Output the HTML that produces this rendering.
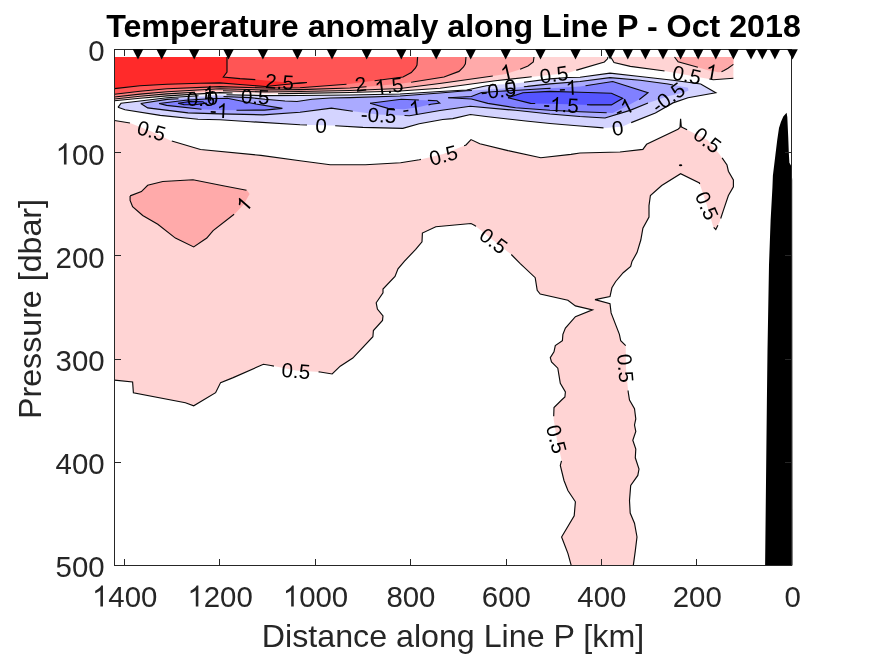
<!DOCTYPE html>
<html><head><meta charset="utf-8"><title>Temperature anomaly along Line P</title>
<style>html,body{margin:0;padding:0;background:#fff;}body{width:875px;height:656px;overflow:hidden;position:relative;font-family:"Liberation Sans",sans-serif;}</style>
</head><body>
<svg width="875" height="656" viewBox="0 0 875 656" style="position:absolute;left:0;top:0;will-change:transform">
<rect width="875" height="656" fill="#fff"/>
<polygon points="114.5,57.1 608.0,57.1 608.0,57.0 607.5,58.8 604.4,62.0 576.7,70.1 568.0,73.0 540.0,76.0 529.6,77.0 495.3,80.8 440.0,88.3 400.0,91.0 350.0,92.5 300.0,93.4 265.0,93.8 220.0,92.7 167.0,95.9 140.0,98.3 114.5,100.8" fill="rgb(255,212,212)"/>
<polygon points="612.7,57.1 733.4,57.1 733.4,78.2 713.3,79.7 700.7,77.5 673.0,72.5 663.0,70.7 630.3,66.4 614.0,62.6 611.0,57.5" fill="rgb(255,212,212)"/>
<polygon points="114.5,120.5 130.0,123.0 151.5,131.5 170.3,140.6 200.5,149.5 260.9,155.4 300.0,160.7 330.2,164.7 365.4,164.7 400.6,162.7 419.4,159.7 443.3,154.0 466.0,145.0 471.0,139.6 479.8,143.8 508.0,150.6 540.8,157.7 571.0,154.4 580.0,153.0 620.0,152.0 642.9,149.4 646.6,144.3 678.0,129.3 680.0,127.5 680.6,118.7 681.3,126.8 683.0,127.7 707.5,140.0 719.5,154.2 727.0,165.0 728.4,171.2 733.4,180.0 733.4,186.8 728.4,195.5 723.3,210.6 719.6,222.0 715.8,229.5 713.3,227.0 707.0,205.6 699.4,183.0 680.6,173.7 661.7,185.5 650.4,195.5 649.0,205.6 649.0,217.0 642.9,228.2 640.8,240.0 637.0,252.6 632.0,261.4 630.7,266.4 623.2,272.7 615.7,281.5 611.9,287.8 610.0,296.6 595.0,299.6 610.0,303.6 611.1,312.9 619.4,334.3 620.7,340.6 625.7,345.6 626.0,368.0 628.2,392.0 629.5,400.0 634.5,408.8 635.8,418.9 634.5,425.0 635.8,431.4 632.8,440.2 635.8,449.0 635.3,457.8 639.0,469.0 637.8,475.4 630.7,485.5 629.5,500.6 630.2,513.0 634.5,523.2 637.0,537.0 635.3,550.9 633.3,565.4 571.2,565.4 567.9,553.4 561.6,537.0 574.2,515.7 575.4,501.8 567.9,490.5 564.0,480.5 560.3,465.4 561.6,460.3 557.0,440.0 553.6,418.9 554.0,407.5 561.6,400.0 564.9,397.0 565.4,392.0 560.3,383.3 557.8,368.2 551.5,362.0 550.3,357.7 554.0,351.9 555.3,345.6 562.4,340.6 562.9,334.3 565.4,328.0 575.4,316.7 592.5,309.9 575.4,305.9 567.9,300.3 540.2,294.0 537.2,290.3 535.2,277.7 520.0,263.3 511.3,254.5 493.6,240.6 474.8,225.5 471.0,223.5 435.8,226.8 422.4,233.1 422.0,241.9 415.7,249.4 404.3,261.3 398.0,268.9 395.0,276.4 383.0,289.0 383.0,292.7 376.2,302.8 377.4,309.1 383.0,315.9 382.5,320.4 373.4,330.5 372.9,336.7 352.8,358.1 340.2,366.2 332.2,374.0 320.1,372.0 296.0,370.6 270.9,365.5 263.4,364.3 233.2,377.6 220.6,382.6 215.6,392.7 193.7,405.8 185.4,402.8 133.4,392.7 132.6,381.9 114.5,380.1" fill="rgb(255,212,212)"/>
<polygon points="114.5,57.1 534.0,57.0 533.3,62.0 528.0,66.0 518.2,70.1 506.0,74.0 494.3,75.8 441.5,83.3 400.0,88.5 350.0,90.5 300.0,91.5 265.0,92.0 220.0,90.7 167.0,93.9 140.0,96.2 114.5,99.0" fill="rgb(255,170,170)"/>
<polygon points="733.4,57.1 674.5,57.0 678.1,61.8 700.3,68.0 708.0,70.2 714.0,71.3 718.0,72.2 721.0,72.1 724.0,70.6 728.0,68.3 733.4,64.4" fill="rgb(255,170,170)"/>
<polygon points="130.1,195.9 141.4,191.6 147.7,185.3 162.8,181.5 193.0,179.8 223.1,185.8 247.0,190.3 249.6,194.1 243.8,204.2 235.7,213.0 213.1,230.6 206.8,238.1 193.7,246.9 175.4,238.1 157.8,224.3 142.7,215.5 132.6,206.7 130.1,200.4" fill="rgb(255,170,170)"/>
<polygon points="114.5,57.1 466.0,57.0 465.4,63.8 463.5,67.0 459.0,71.4 444.0,77.0 412.6,82.0 402.0,83.5 376.0,86.0 350.0,88.0 300.0,89.6 265.0,90.0 220.0,88.8 167.0,91.7 140.0,94.1 114.5,97.0" fill="rgb(255,128,128)"/>
<polygon points="114.5,57.1 417.6,57.0 417.0,65.0 415.5,68.0 411.3,72.6 403.0,77.0 373.6,80.8 349.0,84.0 300.0,87.7 265.0,88.0 220.0,86.7 167.0,88.8 140.0,91.2 114.5,94.3" fill="rgb(255,85,85)"/>
<polygon points="114.5,57.1 227.0,57.0 227.0,72.0 223.3,77.0 240.0,78.6 255.3,79.6 266.0,80.5 293.7,83.3 307.0,82.5 285.0,84.5 265.4,86.5 240.0,84.5 220.0,82.9 200.0,83.2 167.0,84.2 140.0,85.8 114.5,88.6" fill="rgb(255,42,42)"/>
<polygon points="118.0,107.3 121.0,103.3 140.0,101.0 167.0,97.8 220.0,94.5 265.0,95.6 300.0,95.5 350.0,95.0 400.0,94.0 440.0,91.5 466.7,90.0 486.5,85.8 499.0,84.5 510.0,84.0 523.0,82.4 550.0,78.9 568.0,77.5 580.0,77.2 610.0,73.2 640.0,76.5 673.0,80.2 700.7,84.0 715.8,92.8 688.0,97.8 673.0,102.9 655.4,113.0 630.3,123.0 622.7,126.5 605.0,128.0 580.0,126.0 550.0,123.5 525.7,121.0 488.0,116.7 470.4,114.5 452.8,118.6 442.7,119.5 419.2,123.8 402.8,128.3 362.9,127.4 332.7,125.5 300.0,124.8 250.3,121.7 220.0,119.8 198.0,119.2 160.3,115.4 125.0,109.8" fill="rgb(212,212,255)"/>
<polygon points="140.8,103.5 167.0,99.4 220.0,96.3 250.0,97.6 265.0,99.3 285.0,101.0 297.0,101.5 312.0,99.3 330.0,98.0 350.0,97.6 400.0,96.0 440.0,93.0 466.4,90.8 497.0,89.0 527.4,86.4 550.0,83.9 580.0,81.5 610.0,77.7 640.3,80.2 668.0,84.0 688.0,87.8 688.5,90.5 684.0,92.5 669.0,96.0 648.0,103.0 630.0,110.4 605.0,118.0 580.0,116.5 550.0,114.0 515.5,110.3 470.2,106.3 440.0,110.5 409.5,115.7 378.0,114.5 349.3,110.8 331.4,108.1 300.0,112.3 262.9,114.8 220.0,113.9 188.0,112.9 147.7,107.9" fill="rgb(170,170,255)"/>
<polygon points="159.0,103.5 185.5,100.3 210.0,98.8 227.3,98.3 256.0,104.0 282.4,108.4 264.4,110.1 240.0,110.2 220.0,110.0 203.0,109.4 166.6,105.4" fill="rgb(128,128,255)"/>
<polygon points="370.1,103.3 401.3,99.3 437.0,100.8 439.7,103.0 431.0,104.3 418.0,107.2 404.0,109.2 388.0,108.4" fill="rgb(128,128,255)"/>
<polygon points="448.2,97.7 471.4,96.5 481.5,92.5 500.0,91.2 518.0,90.2 550.0,88.3 580.0,86.5 612.7,81.5 648.0,92.8 640.0,99.0 627.0,106.0 612.7,113.0 580.0,111.7 550.0,110.3 515.5,107.8 487.8,103.4 471.4,99.0" fill="rgb(128,128,255)"/>
<polygon points="178.0,103.2 190.0,101.5 203.0,101.8 205.0,103.3 195.0,104.7 184.0,104.6" fill="rgb(85,85,255)"/>
<polygon points="508.0,97.7 523.0,92.7 550.0,91.4 580.0,92.3 611.4,93.3 622.7,98.3 611.4,104.9 591.0,104.9 560.0,104.0 530.6,103.4" fill="rgb(85,85,255)"/>
<g fill="none" stroke="#0a0a0a" stroke-width="1.15" stroke-linejoin="miter" stroke-linecap="butt">
<polyline points="227.0,57.0 227.0,72.0 223.3,77.0 240.0,78.6 255.3,79.6"/>
<polyline points="293.2,83.2 293.7,83.3 307.0,82.5"/>
<polyline points="307.0,82.5 285.0,84.5 265.4,86.5 240.0,84.5 220.0,82.9 200.0,83.2 167.0,84.2 140.0,85.8 114.5,88.6"/>
<polyline points="114.5,94.3 140.0,91.2 167.0,88.8 220.0,86.7 265.0,88.0 300.0,87.7 346.5,84.2"/>
<polyline points="374.6,80.7 403.0,77.0 411.3,72.6 415.5,68.0 417.0,65.0 417.6,57.0"/>
<polyline points="114.5,97.0 140.0,94.1 167.0,91.7 220.0,88.8 265.0,90.0 300.0,89.6 350.0,88.0 366.5,86.7"/>
<polyline points="411.1,82.2 412.6,82.0 444.0,77.0 459.0,71.4 463.5,67.0 465.4,63.8 466.0,57.0"/>
<polyline points="114.5,99.0 140.0,96.2 167.0,93.9 195.0,92.2"/>
<polyline points="223.0,90.8 265.0,92.0 300.0,91.5 350.0,90.5 400.0,88.5 441.5,83.3 492.8,76.0"/>
<polyline points="520.1,69.3 528.0,66.0 533.3,62.0 534.0,57.0"/>
<polyline points="114.5,100.8 140.0,98.3 167.0,95.9 220.0,92.7 232.5,93.0"/>
<polyline points="278.0,93.7 300.0,93.4 350.0,92.5 400.0,91.0 440.0,88.3 495.3,80.8 529.6,77.0 531.7,76.8"/>
<polyline points="576.2,70.3 576.7,70.1 604.4,62.0 607.5,58.8 608.0,57.0"/>
<polyline points="611.0,57.5 614.0,62.6 630.3,66.4 663.0,70.7 664.5,71.0"/>
<polyline points="709.3,79.0 713.3,79.7 733.4,78.2"/>
<polyline points="674.5,57.0 678.1,61.8 697.9,67.3"/>
<polyline points="721.5,71.8 724.0,70.6 728.0,68.3 733.4,64.4"/>
<polyline points="114.5,120.5 130.0,123.0"/>
<polyline points="171.8,141.0 200.5,149.5 260.9,155.4 300.0,160.7 330.2,164.7 365.4,164.7 400.6,162.7 419.4,159.7 420.9,159.4"/>
<polyline points="464.1,145.8 466.0,145.0 471.0,139.6 479.8,143.8 508.0,150.6 540.8,157.7 571.0,154.4 580.0,153.0 620.0,152.0 642.9,149.4 646.6,144.3 678.0,129.3 680.0,127.5 680.6,118.7 681.3,126.8 683.0,127.7 687.1,129.8"/>
<polyline points="722.1,157.9 727.0,165.0 728.4,171.2 733.4,180.0 733.4,186.8 728.4,195.5 723.3,210.6 720.7,218.5"/>
<polyline points="717.9,225.3 715.8,229.5 713.7,227.4"/>
<polyline points="699.7,184.0 699.4,183.0 680.6,173.7 661.7,185.5 650.4,195.5 649.0,205.6 649.0,217.0 642.9,228.2 640.8,240.0 637.0,252.6 632.0,261.4 630.7,266.4 623.2,272.7 615.7,281.5 611.9,287.8 610.0,296.6 595.0,299.6 610.0,303.6 611.1,312.9 619.4,334.3 620.7,340.6 625.7,345.6"/>
<polyline points="628.1,390.5 628.2,392.0 629.5,400.0 634.5,408.8 635.8,418.9 634.5,425.0 635.8,431.4 632.8,440.2 635.8,449.0 635.3,457.8 639.0,469.0 637.8,475.4 630.7,485.5 629.5,500.6 630.2,513.0 634.5,523.2 637.0,537.0 635.3,550.9 633.3,565.4"/>
<polyline points="571.2,565.4 567.9,553.4 561.6,537.0 574.2,515.7 575.4,501.8 567.9,490.5 564.0,480.5 560.3,465.4 561.5,460.8"/>
<polyline points="553.7,416.3 554.0,407.5 561.6,400.0 564.9,397.0 565.4,392.0 560.3,383.3 557.8,368.2 551.5,362.0 550.3,357.7 554.0,351.9 555.3,345.6 562.4,340.6 562.9,334.3 565.4,328.0 575.4,316.7 592.5,309.9 575.4,305.9 567.9,300.3 540.2,294.0 537.2,290.3 535.2,277.7 520.0,263.3 511.3,254.5"/>
<polyline points="476.0,226.4 474.8,225.5 471.0,223.5 435.8,226.8 422.4,233.1 422.0,241.9 415.7,249.4 404.3,261.3 398.0,268.9 395.0,276.4 383.0,289.0 383.0,292.7 376.2,302.8 377.4,309.1 383.0,315.9 382.5,320.4 373.4,330.5 372.9,336.7 352.8,358.1 340.2,366.2 332.2,374.0 320.1,372.0 318.6,371.9"/>
<polyline points="273.9,366.1 270.9,365.5 263.4,364.3 233.2,377.6 220.6,382.6 215.6,392.7 193.7,405.8 185.4,402.8 133.4,392.7 132.6,381.9 114.5,380.1"/>
<polyline points="118.0,107.3 121.0,103.3 140.0,101.0 167.0,97.8 198.5,95.8"/>
<polyline points="226.5,94.7 265.0,95.6 300.0,95.5 350.0,95.0 400.0,94.0 440.0,91.5 466.7,90.0 486.5,85.8 496.0,84.8"/>
<polyline points="524.0,82.3 550.0,78.9 568.0,77.5 580.0,77.2 610.0,73.2 640.0,76.5 673.0,80.2 700.7,84.0 715.8,92.8 688.0,97.8 673.0,102.9 655.4,113.0 631.2,122.6"/>
<polyline points="603.5,127.9 580.0,126.0 550.0,123.5 525.7,121.0 488.0,116.7 470.4,114.5 452.8,118.6 442.7,119.5 419.2,123.8 402.8,128.3 362.9,127.4 335.2,125.7"/>
<polyline points="307.0,125.0 300.0,124.8 250.3,121.7 220.0,119.8 198.0,119.2 160.3,115.4 125.0,109.8 118.0,107.3"/>
<polyline points="140.8,103.5 167.0,99.4 178.5,98.7"/>
<polyline points="223.5,96.5 250.0,97.6 265.0,99.3 285.0,101.0 297.0,101.5 312.0,99.3 330.0,98.0 350.0,97.6 400.0,96.0 440.0,93.0 466.4,90.8 471.9,90.5"/>
<polyline points="523.9,86.7 527.4,86.4 550.0,83.9 580.0,81.5 610.0,77.7 640.3,80.2 668.0,84.0 673.0,85.0"/>
<polyline points="648.0,103.0 630.0,110.4 605.0,118.0 580.0,116.5 550.0,114.0 515.5,110.3 470.2,106.3 440.0,110.5 409.5,115.7 404.5,115.5"/>
<polyline points="352.8,111.3 349.3,110.8 331.4,108.1 300.0,112.3 262.9,114.8 220.0,113.9 188.0,112.9 147.7,107.9 140.8,103.5"/>
<polyline points="159.0,103.5 185.5,100.3 210.0,98.8 227.3,98.3 256.0,104.0 282.4,108.4 264.4,110.1 240.0,110.2 236.5,110.2"/>
<polyline points="201.5,109.2 166.6,105.4 159.0,103.5"/>
<polyline points="370.1,103.3 401.3,99.3 418.9,100.0"/>
<polyline points="427.9,100.4 437.0,100.8 439.7,103.0 431.0,104.3 428.5,104.9"/>
<polyline points="394.0,108.7 388.0,108.4 370.1,103.3"/>
<polyline points="448.2,97.7 471.4,96.5 481.5,92.5 500.0,91.2 518.0,90.2 550.0,88.3 550.5,88.3"/>
<polyline points="585.5,85.7 612.7,81.5 648.0,92.8 640.0,99.0 639.1,99.5"/>
<polyline points="606.7,112.8 580.0,111.7 550.0,110.3 515.5,107.8 487.8,103.4 471.4,99.0 448.2,97.7"/>
<polyline points="178.0,103.2 190.0,101.5 203.0,101.8 205.0,103.3 195.0,104.7 184.0,104.6 178.0,103.2"/>
<polyline points="508.0,97.7 523.0,92.7 550.0,91.4 580.0,92.3 611.4,93.3 622.7,98.3 611.4,104.9 591.0,104.9 587.0,104.8"/>
<polyline points="535.2,103.5 530.6,103.4 508.0,97.7"/>
<polyline points="130.1,195.9 141.4,191.6 147.7,185.3 162.8,181.5 193.0,179.8 223.1,185.8 246.5,190.2"/>
<polyline points="234.1,214.2 213.1,230.6 206.8,238.1 193.7,246.9 175.4,238.1 157.8,224.3 142.7,215.5 132.6,206.7 130.1,200.4 130.1,195.9"/>
</g>
<ellipse cx="680.6" cy="165.2" rx="1.7" ry="1" fill="#000"/>
<polygon points="786.6,112.8 783.3,116.5 780.9,122.0 779.0,128.0 777.2,140.2 775.4,154.9 772.9,175.6 772.4,188.0 770.6,220.7 769.0,265.0 767.5,350.0 766.9,400.0 765.1,565.5 792.5,565.5 792.2,180.0 791.2,165.9 789.4,162.8 788.8,152.4 788.2,136.6 787.3,117.0" fill="#000"/>
<g stroke="#262626" stroke-width="1" fill="none" shape-rendering="crispEdges">
<rect x="114.5" y="49.5" width="677.0" height="516.0"/>
<line x1="696.5" y1="565.5" x2="696.5" y2="558.6"/>
<line x1="696.5" y1="49.5" x2="696.5" y2="56.4"/>
<line x1="601.5" y1="565.5" x2="601.5" y2="558.6"/>
<line x1="601.5" y1="49.5" x2="601.5" y2="56.4"/>
<line x1="506.5" y1="565.5" x2="506.5" y2="558.6"/>
<line x1="506.5" y1="49.5" x2="506.5" y2="56.4"/>
<line x1="410.5" y1="565.5" x2="410.5" y2="558.6"/>
<line x1="410.5" y1="49.5" x2="410.5" y2="56.4"/>
<line x1="315.5" y1="565.5" x2="315.5" y2="558.6"/>
<line x1="315.5" y1="49.5" x2="315.5" y2="56.4"/>
<line x1="219.5" y1="565.5" x2="219.5" y2="558.6"/>
<line x1="219.5" y1="49.5" x2="219.5" y2="56.4"/>
<line x1="124.5" y1="565.5" x2="124.5" y2="558.6"/>
<line x1="124.5" y1="49.5" x2="124.5" y2="56.4"/>
<line x1="114.5" y1="152.5" x2="121.3" y2="152.5"/>
<line x1="791.5" y1="152.5" x2="784.7" y2="152.5"/>
<line x1="114.5" y1="255.5" x2="121.3" y2="255.5"/>
<line x1="791.5" y1="255.5" x2="784.7" y2="255.5"/>
<line x1="114.5" y1="359.5" x2="121.3" y2="359.5"/>
<line x1="791.5" y1="359.5" x2="784.7" y2="359.5"/>
<line x1="114.5" y1="462.5" x2="121.3" y2="462.5"/>
<line x1="791.5" y1="462.5" x2="784.7" y2="462.5"/>
</g>
<polygon points="132.7,49.2 143.3,49.2 138.0,59.4" fill="#000"/>
<polygon points="156.4,49.2 167.0,49.2 161.7,59.4" fill="#000"/>
<polygon points="188.9,49.2 199.5,49.2 194.2,59.4" fill="#000"/>
<polygon points="223.2,49.2 233.8,49.2 228.5,59.4" fill="#000"/>
<polygon points="257.6,49.2 268.2,49.2 262.9,59.4" fill="#000"/>
<polygon points="292.1,49.2 302.7,49.2 297.4,59.4" fill="#000"/>
<polygon points="326.7,49.2 337.3,49.2 332.0,59.4" fill="#000"/>
<polygon points="361.4,49.2 372.0,49.2 366.7,59.4" fill="#000"/>
<polygon points="396.0,49.2 406.6,49.2 401.3,59.4" fill="#000"/>
<polygon points="430.9,49.2 441.5,49.2 436.2,59.4" fill="#000"/>
<polygon points="465.4,49.2 476.0,49.2 470.7,59.4" fill="#000"/>
<polygon points="500.4,49.2 511.0,49.2 505.7,59.4" fill="#000"/>
<polygon points="535.2,49.2 545.8,49.2 540.5,59.4" fill="#000"/>
<polygon points="570.2,49.2 580.8,49.2 575.5,59.4" fill="#000"/>
<polygon points="604.8,49.2 615.4,49.2 610.1,59.4" fill="#000"/>
<polygon points="622.5,49.2 633.1,49.2 627.8,59.4" fill="#000"/>
<polygon points="640.1,49.2 650.7,49.2 645.4,59.4" fill="#000"/>
<polygon points="657.7,49.2 668.3,49.2 663.0,59.4" fill="#000"/>
<polygon points="675.3,49.2 685.9,49.2 680.6,59.4" fill="#000"/>
<polygon points="692.9,49.2 703.5,49.2 698.2,59.4" fill="#000"/>
<polygon points="710.5,49.2 721.1,49.2 715.8,59.4" fill="#000"/>
<polygon points="728.1,49.2 738.7,49.2 733.4,59.4" fill="#000"/>
<polygon points="745.7,49.2 756.3,49.2 751.0,59.4" fill="#000"/>
<polygon points="757.0,49.2 767.6,49.2 762.3,59.4" fill="#000"/>
<polygon points="769.6,49.2 780.2,49.2 774.9,59.4" fill="#000"/>
<polygon points="787.2,49.2 797.8,49.2 792.5,59.4" fill="#000"/>
<g font-family="Liberation Sans, sans-serif" text-anchor="start">
<g transform="translate(151.5,130.5) rotate(16)" fill="#000" font-size="20.6"><text x="-14.32" y="7.37">0.5</text></g>
<g transform="translate(243.8,204.2) rotate(-49)" fill="#000" font-size="20.6"><path transform="translate(-5.73,7.37) scale(0.01006,-0.01006)" d="M763 0H583V1147Q518 1085 412.5 1023Q307 961 223 930V1104Q374 1175 487 1276Q600 1377 647 1472H763Z"/></g>
<g transform="translate(296,370.6) rotate(5)" fill="#000" font-size="20.6"><text x="-14.32" y="7.37">0.5</text></g>
<g transform="translate(443.3,155.1) rotate(-15)" fill="#000" font-size="20.6"><text x="-14.32" y="7.37">0.5</text></g>
<g transform="translate(493.6,240.6) rotate(37)" fill="#000" font-size="20.6"><text x="-14.32" y="7.37">0.5</text></g>
<g transform="translate(707.5,140) rotate(37)" fill="#000" font-size="20.6"><text x="-14.32" y="7.37">0.5</text></g>
<g transform="translate(707,205.6) rotate(66)" fill="#000" font-size="20.6"><text x="-14.32" y="7.37">0.5</text></g>
<g transform="translate(625.7,368.2) rotate(85)" fill="#000" font-size="20.6"><text x="-14.32" y="7.37">0.5</text></g>
<g transform="translate(556.6,439) rotate(75)" fill="#000" font-size="20.6"><text x="-14.32" y="7.37">0.5</text></g>
<g transform="translate(617.7,128) rotate(-8)" fill="#000" font-size="20.6"><text x="-5.73" y="7.37">0</text></g>
<g transform="translate(623.6,107.8) rotate(-27)" fill="#000" font-size="20.6"><text x="-9.16" y="7.37">-</text><path transform="translate(-2.30,7.37) scale(0.01006,-0.01006)" d="M763 0H583V1147Q518 1085 412.5 1023Q307 961 223 930V1104Q374 1175 487 1276Q600 1377 647 1472H763Z"/></g>
<g transform="translate(668,97.3) rotate(-36)" fill="#000" font-size="20.6"><text x="-17.75" y="7.37">-0.5</text></g>
<g transform="translate(686.9,74.7) rotate(12)" fill="#000" font-size="20.6"><text x="-14.32" y="7.37">0.5</text></g>
<g transform="translate(711.5,71.6) rotate(10)" fill="#000" font-size="20.6"><path transform="translate(-5.73,7.37) scale(0.01006,-0.01006)" d="M763 0H583V1147Q518 1085 412.5 1023Q307 961 223 930V1104Q374 1175 487 1276Q600 1377 647 1472H763Z"/></g>
<g transform="translate(553.9,74.4) rotate(-8)" fill="#000" font-size="20.6"><text x="-14.32" y="7.37">0.5</text></g>
<g transform="translate(568,87.7) rotate(-3)" fill="#000" font-size="20.6"><text x="-9.16" y="7.37">-</text><path transform="translate(-2.30,7.37) scale(0.01006,-0.01006)" d="M763 0H583V1147Q518 1085 412.5 1023Q307 961 223 930V1104Q374 1175 487 1276Q600 1377 647 1472H763Z"/></g>
<g transform="translate(561,104.7) rotate(3)" fill="#000" font-size="20.6"><text x="-17.75" y="7.37">-</text><path transform="translate(-10.89,7.37) scale(0.01006,-0.01006)" d="M763 0H583V1147Q518 1085 412.5 1023Q307 961 223 930V1104Q374 1175 487 1276Q600 1377 647 1472H763Z"/><text x="0.57" y="7.37">.5</text></g>
<g transform="translate(506.4,72) rotate(-13)" fill="#000" font-size="20.6"><path transform="translate(-5.73,7.37) scale(0.01006,-0.01006)" d="M763 0H583V1147Q518 1085 412.5 1023Q307 961 223 930V1104Q374 1175 487 1276Q600 1377 647 1472H763Z"/></g>
<g transform="translate(510.4,86.4) rotate(-8)" fill="#000" font-size="20.6"><text x="-5.73" y="7.37">0</text></g>
<g transform="translate(498.2,90.2) rotate(-5)" fill="#000" font-size="20.6"><text x="-17.75" y="7.37">-0.5</text></g>
<g transform="translate(411.4,108.2) rotate(-8)" fill="#000" font-size="20.6"><text x="-9.16" y="7.37">-</text><path transform="translate(-2.30,7.37) scale(0.01006,-0.01006)" d="M763 0H583V1147Q518 1085 412.5 1023Q307 961 223 930V1104Q374 1175 487 1276Q600 1377 647 1472H763Z"/></g>
<g transform="translate(378.6,114.9) rotate(3)" fill="#000" font-size="20.6"><text x="-17.75" y="7.37">-0.5</text></g>
<g transform="translate(321,125.5) rotate(3)" fill="#000" font-size="20.6"><text x="-5.73" y="7.37">0</text></g>
<g transform="translate(360.7,84) rotate(-8)" fill="#000" font-size="20.6"><text x="-5.73" y="7.37">2</text></g>
<g transform="translate(389,85.8) rotate(-8)" fill="#000" font-size="20.6"><path transform="translate(-14.32,7.37) scale(0.01006,-0.01006)" d="M763 0H583V1147Q518 1085 412.5 1023Q307 961 223 930V1104Q374 1175 487 1276Q600 1377 647 1472H763Z"/><text x="-2.86" y="7.37">.5</text></g>
<g transform="translate(279.6,81.6) rotate(4)" fill="#000" font-size="20.6"><text x="-14.32" y="7.37">2.5</text></g>
<g transform="translate(255.2,96.5) rotate(2)" fill="#000" font-size="20.6"><text x="-14.32" y="7.37">0.5</text></g>
<g transform="translate(219,110.4) rotate(3)" fill="#000" font-size="20.6"><text x="-9.16" y="7.37">-</text><path transform="translate(-2.30,7.37) scale(0.01006,-0.01006)" d="M763 0H583V1147Q518 1085 412.5 1023Q307 961 223 930V1104Q374 1175 487 1276Q600 1377 647 1472H763Z"/></g>
<g transform="translate(201,98.4) rotate(0)" fill="#000" font-size="20.6"><text x="-14.32" y="7.37">0.5</text></g>
<g transform="translate(209,93.4) rotate(-3)" fill="#000" font-size="20.6"><path transform="translate(-5.73,7.37) scale(0.01006,-0.01006)" d="M763 0H583V1147Q518 1085 412.5 1023Q307 961 223 930V1104Q374 1175 487 1276Q600 1377 647 1472H763Z"/></g>
<g transform="translate(212.5,97.2) rotate(0)" fill="#000" font-size="20.6"><text x="-5.73" y="7.37">0</text></g>
<g transform="translate(792.6,606.6)" fill="#262626" font-size="29.4"><text x="-8.17" y="0.00">0</text></g>
<g transform="translate(697.2,606.6)" fill="#262626" font-size="29.4"><text x="-24.52" y="0.00">200</text></g>
<g transform="translate(601.8,606.6)" fill="#262626" font-size="29.4"><text x="-24.52" y="0.00">400</text></g>
<g transform="translate(506.3,606.6)" fill="#262626" font-size="29.4"><text x="-24.52" y="0.00">600</text></g>
<g transform="translate(410.9,606.6)" fill="#262626" font-size="29.4"><text x="-24.52" y="0.00">800</text></g>
<g transform="translate(315.5,606.6)" fill="#262626" font-size="29.4"><path transform="translate(-32.69,0.00) scale(0.01436,-0.01436)" d="M763 0H583V1147Q518 1085 412.5 1023Q307 961 223 930V1104Q374 1175 487 1276Q600 1377 647 1472H763Z"/><text x="-16.35" y="0.00">000</text></g>
<g transform="translate(220.1,606.6)" fill="#262626" font-size="29.4"><path transform="translate(-32.69,0.00) scale(0.01436,-0.01436)" d="M763 0H583V1147Q518 1085 412.5 1023Q307 961 223 930V1104Q374 1175 487 1276Q600 1377 647 1472H763Z"/><text x="-16.35" y="0.00">200</text></g>
<g transform="translate(124.7,606.6)" fill="#262626" font-size="29.4"><path transform="translate(-32.69,0.00) scale(0.01436,-0.01436)" d="M763 0H583V1147Q518 1085 412.5 1023Q307 961 223 930V1104Q374 1175 487 1276Q600 1377 647 1472H763Z"/><text x="-16.35" y="0.00">400</text></g>
<g transform="translate(104.6,61.3)" fill="#262626" font-size="29.4"><text x="-16.35" y="0.00">0</text></g>
<g transform="translate(104.6,164.5)" fill="#262626" font-size="29.4"><path transform="translate(-49.04,0.00) scale(0.01436,-0.01436)" d="M763 0H583V1147Q518 1085 412.5 1023Q307 961 223 930V1104Q374 1175 487 1276Q600 1377 647 1472H763Z"/><text x="-32.69" y="0.00">00</text></g>
<g transform="translate(104.6,267.7)" fill="#262626" font-size="29.4"><text x="-49.04" y="0.00">200</text></g>
<g transform="translate(104.6,370.9)" fill="#262626" font-size="29.4"><text x="-49.04" y="0.00">300</text></g>
<g transform="translate(104.6,474.1)" fill="#262626" font-size="29.4"><text x="-49.04" y="0.00">400</text></g>
<g transform="translate(104.6,577.3)" fill="#262626" font-size="29.4"><text x="-49.04" y="0.00">500</text></g>
</g>
<g font-family="Liberation Sans, sans-serif" font-size="32.2" fill="#262626" text-anchor="middle">
<text x="453" y="647.3">Distance along Line P [km]</text>
<text transform="translate(41,309) rotate(-90)">Pressure [dbar]</text>
</g>
<text x="453.5" y="36.7" font-family="Liberation Sans, sans-serif" font-size="32.2" font-weight="bold" fill="#000" text-anchor="middle">Temperature anomaly along Line P - Oct 2018</text>
</svg>
</body></html>
